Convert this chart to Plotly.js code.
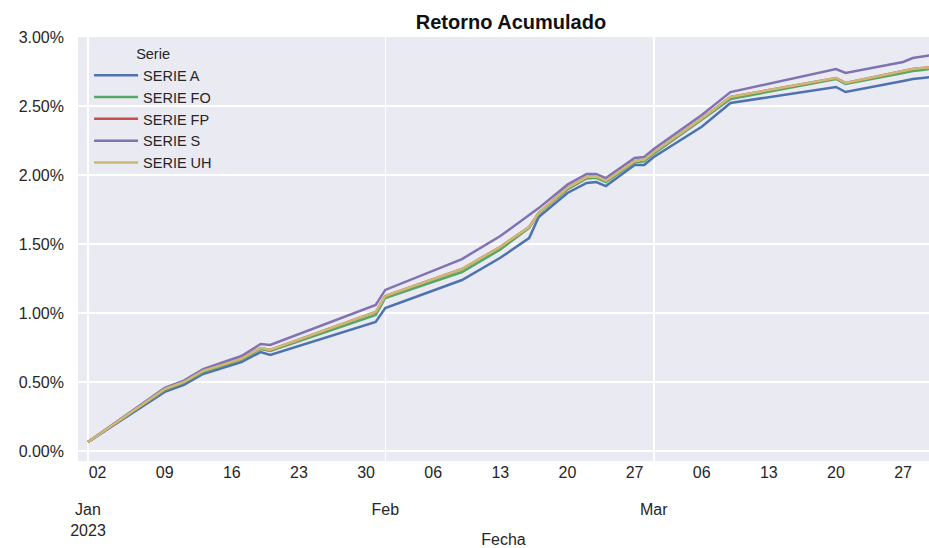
<!DOCTYPE html>
<html>
<head>
<meta charset="utf-8">
<script src="https://cdn.plot.ly/plotly-3.0.1.min.js"></script>
<style>html,body{margin:0;padding:0;background:#fff;overflow:hidden}</style>
</head>
<body>
<div id="chart" style="width:929px;height:548px"></div>
<script>
// ---- data (cumulative return, %) ----
const dates = ['2023-01-01','2023-01-09','2023-01-11','2023-01-13','2023-01-17','2023-01-19','2023-01-20',
  '2023-01-31','2023-02-01','2023-02-09','2023-02-13','2023-02-16','2023-02-17','2023-02-20','2023-02-22',
  '2023-02-23','2023-02-24','2023-02-27','2023-02-28','2023-03-01','2023-03-06','2023-03-09','2023-03-20',
  '2023-03-21','2023-03-27','2023-03-28','2023-03-29','2023-03-30'];
const serieA  = [0.065,0.428,0.480,0.558,0.645,0.717,0.696,0.935,1.036,1.239,1.400,1.543,1.696,1.870,1.942,
  1.949,1.920,2.072,2.072,2.130,2.350,2.522,2.638,2.601,2.681,2.696,2.703,2.710];
const serieFO = [0.065,0.442,0.495,0.572,0.660,0.739,0.725,0.986,1.109,1.297,1.460,1.616,1.720,1.895,1.975,
  1.980,1.948,2.090,2.100,2.155,2.400,2.551,2.696,2.659,2.739,2.754,2.761,2.770];
const serieFP = [0.065,0.448,0.500,0.580,0.667,0.746,0.732,1.007,1.123,1.319,1.480,1.623,1.725,1.905,1.985,
  1.990,1.958,2.100,2.110,2.165,2.410,2.565,2.703,2.667,2.754,2.768,2.775,2.780];
const serieS  = [0.065,0.457,0.510,0.594,0.688,0.775,0.768,1.058,1.167,1.391,1.558,1.710,1.760,1.930,2.007,
  2.007,1.978,2.123,2.130,2.188,2.435,2.601,2.768,2.739,2.819,2.848,2.859,2.870];
const serieUH = [0.065,0.448,0.500,0.580,0.667,0.746,0.732,1.007,1.123,1.319,1.480,1.623,1.725,1.905,1.985,
  1.990,1.958,2.100,2.110,2.165,2.410,2.565,2.703,2.667,2.754,2.768,2.775,2.780];

const seriesNames = ['SERIE A','SERIE FO','SERIE FP','SERIE S','SERIE UH'];
const seriesData  = [serieA, serieFO, serieFP, serieS, serieUH];
const seriesColors = ['#4C72B0','#55A868','#C44E52','#8172B2','#CCB974'];

const weekTicks  = ['2023-01-02','2023-01-09','2023-01-16','2023-01-23','2023-01-30','2023-02-06','2023-02-13',
  '2023-02-20','2023-02-27','2023-03-06','2023-03-13','2023-03-20','2023-03-27'];
const weekLabels = ['02','09','16','23','30','06','13','20','27','06','13','20','27'];
const monthTicks  = ['2023-01-01','2023-02-01','2023-03-01'];
const monthLabels = ['Jan<br>2023','Feb','Mar'];
const yTicks  = [0,0.5,1.0,1.5,2.0,2.5,3.0];
const yLabels = ['0.00%','0.50%','1.00%','1.50%','2.00%','2.50%','3.00%'];

const xRange = ['2022-12-30 22:58','2023-03-29 16:48'];

const traces = seriesNames.map((n,i)=>({
  x: dates, y: seriesData[i], name: n, type:'scatter', mode:'lines',
  line:{color: seriesColors[i], width:2.5}
}));

const layout = {
  width:929, height:548,
  margin:{l:78, r:0, t:37, b:87, pad:0},
  paper_bgcolor:'#ffffff', plot_bgcolor:'#EAEAF2',
  font:{family:'Liberation Sans, Arial, sans-serif', size:16, color:'#262626'},
  title:{text:'<b>Retorno Acumulado</b>', x:0.55, xref:'container', xanchor:'center',
         y:0.96, yref:'container', yanchor:'middle', font:{size:20, color:'#111111'}},
  xaxis:{type:'date', range:xRange, tickmode:'array', tickvals:weekTicks, ticktext:weekLabels,
         showgrid:false, zeroline:false, showline:false, ticks:'', tickfont:{size:16}},
  xaxis2:{type:'date', overlaying:'x', anchor:'y', side:'bottom', range:xRange, tickmode:'array',
          tickvals:monthTicks, ticktext:monthLabels, showgrid:true, gridcolor:'#ffffff', gridwidth:1.5,
          zeroline:false, showline:false, ticks:'', ticklabelstandoff:37, tickfont:{size:16},
          title:{text:'Fecha', standoff:4, font:{size:16}}},
  yaxis:{range:[-0.0725,3.0], tickmode:'array', tickvals:yTicks, ticktext:yLabels,
         showgrid:true, gridcolor:'#ffffff', gridwidth:1.5, zeroline:false, showline:false, ticks:'',
         ticklabelstandoff:13, tickfont:{size:16}},
  legend:{x:0.013, y:0.992, xanchor:'left', yanchor:'top', bgcolor:'rgba(0,0,0,0)', itemwidth:44,
          title:{text:'Serie', side:'top center', font:{size:14.5}}, font:{size:14.5}, tracegroupgap:0},
  showlegend:true
};

// helper trace so the month axis (xaxis2) is drawn
traces.push({x:[xRange[0]], y:[null], xaxis:'x2', yaxis:'y', showlegend:false, hoverinfo:'skip', mode:'lines'});

Plotly.newPlot('chart', traces, layout, {displayModeBar:false, staticPlot:true});
</script>
</body>
</html>
